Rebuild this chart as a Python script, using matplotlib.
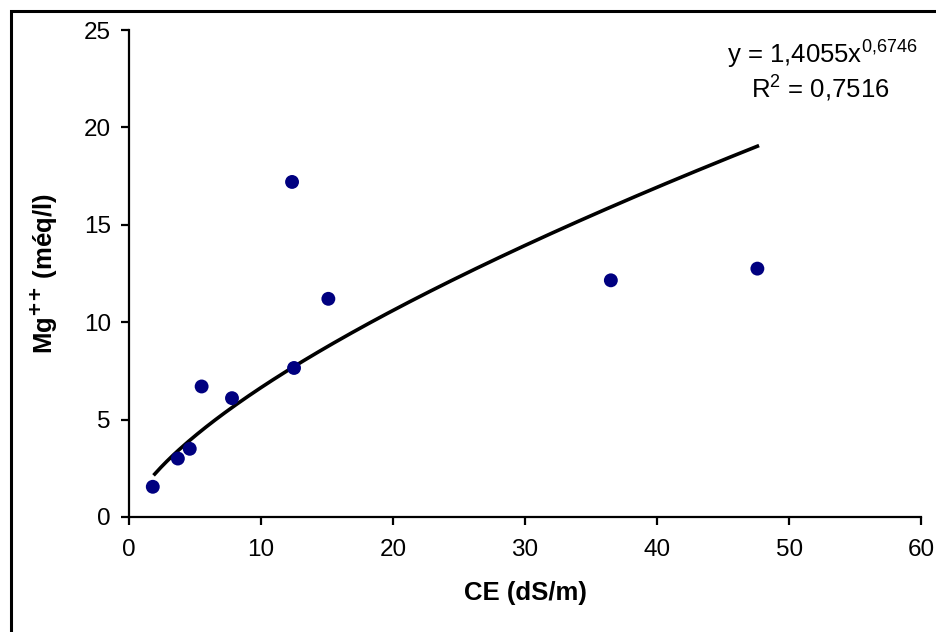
import numpy as np
import matplotlib
matplotlib.use('Agg')
import matplotlib.pyplot as plt
from matplotlib.patches import Rectangle

# measured samples: electrical conductivity vs magnesium
ce = [1.8, 3.7, 4.6, 5.5, 7.8, 12.35, 12.5, 15.1, 36.5, 47.6]
mg = [1.55, 3.0, 3.5, 6.7, 6.1, 17.2, 7.65, 11.2, 12.15, 12.75]

# power trend y = a * x^b
coef_a = 1.4055
coef_b = 0.6746
r2 = 0.7516

plt.rcParams['font.family'] = ['Liberation Sans', 'DejaVu Sans']

fig = plt.figure(figsize=(9.37, 6.32), dpi=100)
ax = fig.add_axes([0.1377, 0.182, 0.8453, 0.7705])

# border around the chart area
fig.patches.append(Rectangle((11 / 937, -0.2), 1.2, 1.2 - 11 / 632,
                             transform=fig.transFigure, fill=False,
                             edgecolor='black', linewidth=2.2, clip_on=False))

xs = np.linspace(1.95, max(ce), 200)
ax.plot(xs, coef_a * xs ** coef_b, color='black', linewidth=2.6, zorder=2)
ax.scatter(ce, mg, s=100, color='#000080', edgecolors='none', zorder=3)

ax.set_xlim(0, 60)
ax.set_ylim(0, 25)
ax.set_xticks(range(0, 61, 10))
ax.set_yticks(range(0, 26, 5))
ax.spines['top'].set_visible(False)
ax.spines['right'].set_visible(False)
for s in ['left', 'bottom']:
    ax.spines[s].set_linewidth(1.6)
ax.tick_params(direction='out', length=6, width=1.6, labelsize=17.5, pad=7)
ax.tick_params(axis='x', pad=10)

ax.set_xlabel('CE (dS/m)', fontsize=18.5, fontweight='bold', labelpad=14)
ax.set_ylabel(r'Mg$^{\mathbf{{+}{+}}}$ (méq/l)', fontsize=18.5, fontweight='bold', labelpad=17)

eq = r'y = %s$^{\mathregular{%s}}$' % ('1,4055x', '0{,}6746')
ax.text(0.996, 0.952, eq, transform=ax.transAxes, ha='right', va='center', fontsize=18.5)
ax.text(0.96, 0.882, 'R$^{\\mathregular{2}}$ = %s' % str(r2).replace('.', ','),
        transform=ax.transAxes, ha='right', va='center', fontsize=18.5)

fig.savefig('out.png', dpi=100)
